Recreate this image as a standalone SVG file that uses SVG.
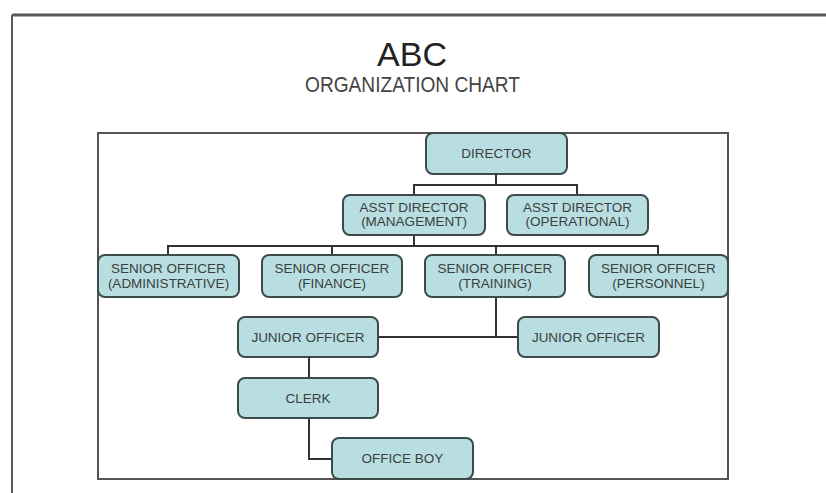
<svg xmlns="http://www.w3.org/2000/svg" width="826" height="493" viewBox="0 0 826 493">
<style>
.frame{fill:none;stroke:#555;stroke-width:2}
.box{fill:#b9dee1;stroke:#3d4a4a;stroke-width:2}
.lbl{font-family:"Liberation Sans",Arial,sans-serif;font-size:13.5px;fill:#3a3f40;text-anchor:middle}
.con{fill:none;stroke:#333;stroke-width:2}
</style>
<rect x="0" y="0" width="826" height="493" fill="#ffffff"/>
<g id="outer-frame">
<path d="M12,15 H826" stroke="#5a5a5a" stroke-width="3" fill="none"/>
<path d="M12,15 V493" stroke="#5a5a5a" stroke-width="2" fill="none"/>
</g>
<g id="title">
<text x="412" y="66" font-family="Liberation Sans,Arial,sans-serif" font-size="33" fill="#222" text-anchor="middle" textLength="70" lengthAdjust="spacingAndGlyphs">ABC</text>
<text x="412.5" y="92" font-family="Liberation Sans,Arial,sans-serif" font-size="22" fill="#444" text-anchor="middle" textLength="215" lengthAdjust="spacingAndGlyphs">ORGANIZATION CHART</text>
</g>
<rect id="inner-frame" class="frame" x="98" y="133" width="630" height="346"/>
<g id="connectors">
<path class="con" d="M496,174 V185"/>
<path class="con" d="M414,195 V185 H577 V195"/>
<path class="con" d="M414,235 V246"/>
<path class="con" d="M168,255 V246 H658 V255"/>
<path class="con" d="M332,246 V255"/>
<path class="con" d="M496,246 V255"/>
<path class="con" d="M496,297 V337"/>
<path class="con" d="M378,337 H518"/>
<path class="con" d="M309,357 V378"/>
<path class="con" d="M309,418 V459 H332"/>
</g>
<g id="director">
<rect class="box" x="426" y="133" width="141" height="41" rx="7"/>
<text class="lbl" x="496.5" y="158">DIRECTOR</text>
</g>
<g id="asst-director-management">
<rect class="box" x="343" y="195" width="142" height="40" rx="7"/>
<text class="lbl" x="414" y="212">ASST DIRECTOR</text>
<text class="lbl" x="414" y="226">(MANAGEMENT)</text>
</g>
<g id="asst-director-operational">
<rect class="box" x="507" y="195" width="141" height="40" rx="7"/>
<text class="lbl" x="577.5" y="212">ASST DIRECTOR</text>
<text class="lbl" x="577.5" y="226">(OPERATIONAL)</text>
</g>
<g id="senior-officer-administrative">
<rect class="box" x="98" y="255" width="141" height="42" rx="7"/>
<text class="lbl" x="168.5" y="273">SENIOR OFFICER</text>
<text class="lbl" x="168.5" y="288">(ADMINISTRATIVE)</text>
</g>
<g id="senior-officer-finance">
<rect class="box" x="262" y="255" width="140" height="42" rx="7"/>
<text class="lbl" x="332" y="273">SENIOR OFFICER</text>
<text class="lbl" x="332" y="288">(FINANCE)</text>
</g>
<g id="senior-officer-training">
<rect class="box" x="425" y="255" width="140" height="42" rx="7"/>
<text class="lbl" x="495" y="273">SENIOR OFFICER</text>
<text class="lbl" x="495" y="288">(TRAINING)</text>
</g>
<g id="senior-officer-personnel">
<rect class="box" x="589" y="255" width="139" height="42" rx="7"/>
<text class="lbl" x="658.5" y="273">SENIOR OFFICER</text>
<text class="lbl" x="658.5" y="288">(PERSONNEL)</text>
</g>
<g id="junior-officer-1">
<rect class="box" x="238" y="317" width="140" height="40" rx="7"/>
<text class="lbl" x="308" y="341.5">JUNIOR OFFICER</text>
</g>
<g id="junior-officer-2">
<rect class="box" x="518" y="317" width="141" height="40" rx="7"/>
<text class="lbl" x="588.5" y="341.5">JUNIOR OFFICER</text>
</g>
<g id="clerk">
<rect class="box" x="238" y="378" width="140" height="40" rx="7"/>
<text class="lbl" x="308" y="402.5">CLERK</text>
</g>
<g id="office-boy">
<rect class="box" x="332" y="438" width="141" height="41" rx="7"/>
<text class="lbl" x="402.5" y="463">OFFICE BOY</text>
</g>
</svg>
